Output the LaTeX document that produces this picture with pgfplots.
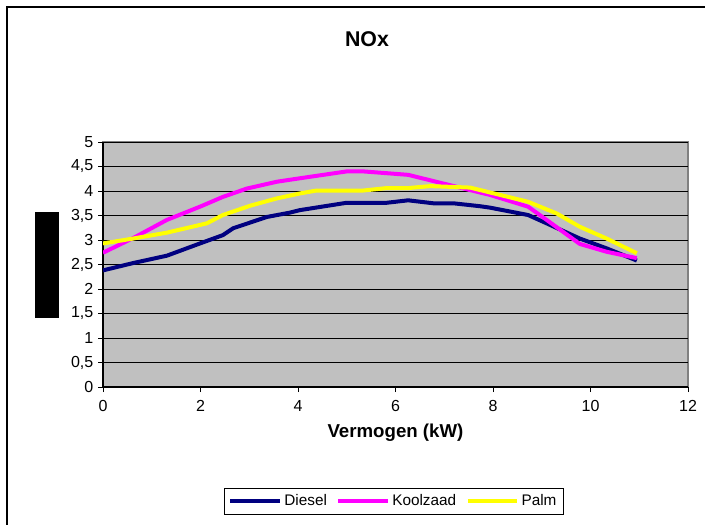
\documentclass[border=0pt]{standalone}
\usepackage{pgfplots}
\pgfplotsset{compat=1.18}
\usepackage{fontspec}
\setmainfont{Liberation Sans}
\definecolor{plotgray}{RGB}{192,192,192}
\definecolor{bordergray}{RGB}{128,128,128}
\definecolor{diesel}{RGB}{0,0,128}
\definecolor{kool}{RGB}{255,0,255}
\definecolor{palm}{RGB}{255,255,0}
\begin{document}
\begin{tikzpicture}
\useasboundingbox (0pt,0pt) rectangle (528.75pt,-393pt);
% outer chart frame
\draw[black, line width=0.8pt] (5.25pt,-600pt) -- (5.25pt,-5.25pt) -- (700pt,-5.25pt);
% title
\node[font=\fontsize{16}{19}\selectfont\bfseries] at (275.25pt,-29.5pt) {NOx};
% redacted y label block
\fill[black] (26.25pt,-159pt) rectangle (44.25pt,-238.5pt);
\begin{axis}[
  at={(77.25pt,-290.25pt)}, anchor=south west,
  scale only axis, width=438.75pt, height=183.75pt,
  xmin=0, xmax=12, ymin=0, ymax=5,
  xtick={0,2,...,12}, ytick={0,0.5,...,5},
  axis background/.style={fill=plotgray, draw=bordergray, line width=0.8pt},
  axis x line*=bottom, axis y line*=left,
  axis line style={black, line width=0.8pt, -},
  tick align=outside, major tick length=3.75pt,
  tick style={black, line width=0.6pt},
  ymajorgrids, grid style={black, line width=0.6pt},
  /pgf/number format/assume math mode=true,
  yticklabel style={/pgf/number format/.cd, use comma, fixed},
  ticklabel style={font=\fontsize{12}{14}\selectfont},
  xticklabel style={yshift=-3pt},
  xlabel={Vermogen (kW)},
  xlabel style={font=\fontsize{14}{16}\selectfont\bfseries, yshift=-2pt},
  legend columns=3,
  legend style={at={(0.497,-0.467)}, anchor=center, draw=black, line width=0.6pt,
    font=\fontsize{11.5}{13}\selectfont, inner xsep=3pt, inner ysep=3pt,
    /tikz/every even column/.append style={column sep=5pt}},
  legend image code/.code={\draw[#1, line width=3pt] (0pt,0pt) -- (37pt,0pt);},
  every axis plot/.append style={line width=3pt, line join=round, no marks},
]
\addplot[diesel] coordinates {(0,2.38) (0.62,2.53) (1.31,2.68) (1.99,2.93) (2.46,3.10) (2.67,3.24) (3.36,3.47) (3.84,3.56) (4.04,3.61) (5.0,3.76) (5.82,3.76) (6.26,3.81) (6.77,3.75) (7.18,3.75) (7.73,3.69) (7.94,3.66) (8.72,3.51) (9.10,3.34) (9.78,3.03) (10.33,2.83) (10.95,2.58)};
\addlegendentry{Diesel}
\addplot[kool] coordinates {(0,2.74) (0.62,3.04) (1.31,3.41) (1.99,3.68) (2.46,3.88) (2.95,4.05) (3.57,4.19) (4.04,4.26) (5.0,4.40) (5.34,4.40) (6.26,4.33) (6.91,4.17) (7.73,3.97) (7.94,3.92) (8.72,3.68) (9.10,3.41) (9.78,2.92) (10.33,2.76) (10.95,2.63)};
\addlegendentry{Koolzaad}
\addplot[palm] coordinates {(0,2.93) (0.62,3.03) (1.31,3.15) (2.13,3.34) (2.46,3.51) (3.02,3.70) (3.57,3.85) (4.04,3.95) (4.38,4.01) (5.34,4.01) (5.82,4.06) (6.26,4.06) (6.71,4.10) (7.53,4.07) (7.94,3.97) (8.72,3.78) (9.31,3.54) (9.78,3.27) (10.33,3.03) (10.95,2.73)};
\addlegendentry{Palm}
\end{axis}
\end{tikzpicture}
\end{document}
